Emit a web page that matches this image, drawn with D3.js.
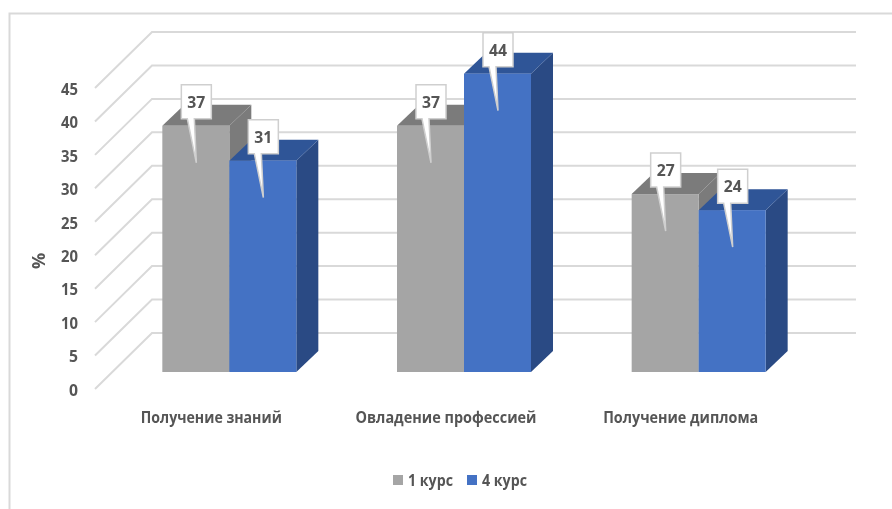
<!DOCTYPE html>
<html>
<head>
<meta charset="utf-8">
<script src="https://cdnjs.cloudflare.com/ajax/libs/d3/7.8.5/d3.min.js"></script>
<style>
  html, body { margin: 0; background: #fff; }
  svg { display: block; filter: blur(0.4px); }
  text { font-family: "Open Sans", sans-serif; font-weight: 700; fill: #555; }
</style>
</head>
<body>
<div id="chart"></div>
<script>
const categories = ["Получение знаний", "Овладение профессией", "Получение диплома"];
const seriesNames = ["1 курс", "4 курс"];
// printed labels
const labels1 = [37, 37, 27];
const labels4 = [31, 44, 24];
// bar heights as drawn in the picture, they sit a little off the printed numbers
const heights1 = [36.8, 36.8, 26.6];
const heights4 = [31.6, 44.6, 24.2];
const ticks = [0, 5, 10, 15, 20, 25, 30, 35, 40, 45];

const width = 892;
const height = 509;

const frontFill = ["#a5a5a5", "#4472c4"];
const topFill = ["#7b7b7b", "#2f5597"];
const sideFill = ["#7b7b7b", "#2a4a84"];

const svg = d3.select("#chart").append("svg")
  .attr("width", width)
  .attr("height", height);

// chart frame
svg.append("path")
  .attr("d", "M9.5,509V13.5H892")
  .attr("fill", "none")
  .attr("stroke", "#d9d9d9")
  .attr("stroke-width", 2);

// back wall scale
const yBack = d3.scaleLinear().domain([0, 45]).range([333, 32]);
const xBack = d3.scaleBand().domain(categories).range([152, 856]);

// floor depth
const wallDx = 57, wallDy = 56;
const barDx = 22, barDy = 21;
const barShiftX = 40, barShiftY = 39;

const yFront = d3.scaleLinear().domain([0, 45]).range([333 + wallDy, 32 + wallDy]);
const yBar = d3.scaleLinear().domain([0, 45]).range([333 + barShiftY, 32 + barShiftY]);

// gridlines
const grid = svg.append("g").attr("fill", "none").attr("stroke", "#d9d9d9").attr("stroke-width", 2);
grid.selectAll("path")
  .data(ticks)
  .enter()
  .append("path")
  .attr("d", d => `M${152 - wallDx},${yBack(d) + wallDy}L152,${yBack(d)}H856`);

// y axis, only the numbers
const yAxis = d3.axisLeft(yFront).tickValues(ticks).tickSize(0).tickPadding(0);
const yG = svg.append("g").attr("transform", "translate(78,1)").call(yAxis);
yG.select(".domain").remove();
yG.attr("font-family", null).attr("font-size", null);
yG.selectAll("text")
  .style("font-size", "16.5px")
  .attr("fill", null)
  .attr("textLength", d => d < 10 ? 9 : 17)
  .attr("lengthAdjust", "spacingAndGlyphs");

svg.append("text")
  .attr("transform", "translate(45,261) rotate(-90)")
  .attr("text-anchor", "middle")
  .style("font-size", "18px")
  .text("%");

// category labels
const xLabelWidths = [141, 181, 155];
svg.append("g").selectAll("text")
  .data(categories)
  .enter()
  .append("text")
  .attr("x", d => xBack(d) + xBack.bandwidth() / 2 - 58)
  .attr("y", 423)
  .attr("text-anchor", "middle")
  .attr("textLength", (d, i) => xLabelWidths[i])
  .attr("lengthAdjust", "spacingAndGlyphs")
  .style("font-size", "16.5px")
  .text(d => d);

// bars, series by series so blue covers the grey side
const xInner = d3.scaleBand().domain(d3.range(2)).range([0, 134]);
const barX = (d, i, s) => xBack(categories[i]) + xBack.bandwidth() / 2 - barShiftX - 67 + xInner(s);
const seriesData = [heights1, heights4];
const labelData = [labels1, labels4];

seriesData.forEach((vals, s) => {
  const g = svg.append("g");
  const w = xInner.bandwidth();
  vals.forEach((v, i) => {
    const x = barX(v, i, s);
    const t = yBar(v);
    const b = yBar(0);
    g.append("path").attr("fill", sideFill[s])
      .attr("d", `M${x + w},${t}l${barDx},${-barDy}V${b - barDy}L${x + w},${b}Z`);
    g.append("path").attr("fill", topFill[s])
      .attr("d", `M${x},${t}l${barDx},${-barDy}h${w}l${-barDx},${barDy}Z`);
    g.append("rect").attr("x", x).attr("y", t).attr("width", w).attr("height", b - t).attr("fill", frontFill[s]);
  });
});

// callouts go on top of every bar
seriesData.forEach((vals, s) => {
  vals.forEach((v, i) => {
    const cx = barX(v, i, s) + xInner.bandwidth() / 2 + 0.5;
    const t = yBar(v);
    const boxTop = t - 41;
    const g = svg.append("g");
    g.append("path")
      .attr("d", `M${cx - 15},${boxTop}h30v34h-17L${cx},${t + 37}L${cx - 9},${boxTop + 34}h-6Z`)
      .attr("fill", "#fff")
      .attr("stroke", "#cfcfcf")
      .attr("stroke-width", 1.5)
      .attr("stroke-linejoin", "miter");
    g.append("text")
      .attr("x", cx)
      .attr("y", boxTop + 23)
      .attr("text-anchor", "middle")
      .attr("textLength", 18)
      .attr("lengthAdjust", "spacingAndGlyphs")
      .style("font-size", "16.5px")
      .text(labelData[s][i]);
  });
});

// legend
const legendX = [393, 467];
const legend = svg.append("g");
seriesNames.forEach((n, i) => {
  legend.append("rect").attr("x", legendX[i]).attr("y", 475).attr("width", 10).attr("height", 10).attr("fill", frontFill[i]);
  legend.append("text")
    .attr("x", legendX[i] + 15)
    .attr("y", 486)
    .attr("textLength", 45)
    .attr("lengthAdjust", "spacingAndGlyphs")
    .style("font-size", "16.5px")
    .text(n);
});
</script>
</body>
</html>
